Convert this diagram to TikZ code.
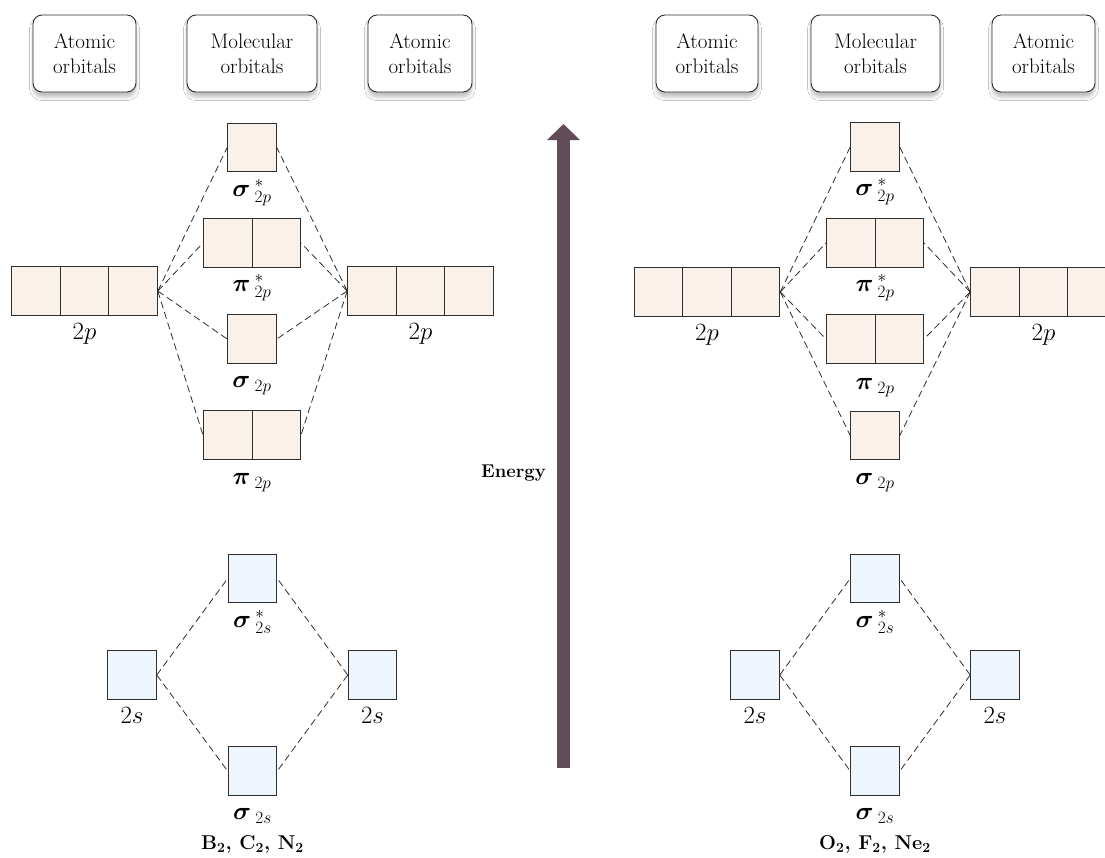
\documentclass[tikz,border=0pt]{standalone}
\usepackage{amsmath,bm}
\usetikzlibrary{arrows.meta,calc,shadows.blur}
\definecolor{peach}{HTML}{FBF1EB}
\definecolor{sblue}{HTML}{EEF5FC}
\definecolor{linegray}{HTML}{2E2E2E}
\definecolor{arrowcol}{HTML}{634C5A}
\tikzset{
  hdr/.style={draw=linegray, line width=0.9pt, rounded corners=9pt, fill=white,
    minimum height=77pt, align=center, inner sep=0pt,
    font=\fontsize{21}{25}\selectfont,
    blur shadow={shadow xshift=0pt, shadow yshift=-5pt, shadow blur radius=3.5pt, shadow opacity=25}},
  orb/.style={draw=linegray, line width=1.1pt, minimum height=48.5pt, minimum width=48.5pt, inner sep=0pt},
  porb/.style={orb, fill=peach},
  sorb/.style={orb, fill=sblue},
  widetwo/.style={minimum width=97pt},
  widethree/.style={minimum width=145.5pt},
  lbl/.style={anchor=base, inner sep=0pt, font=\fontsize{23}{27}\selectfont},
  conn/.style={draw=linegray, line width=0.8pt, dash pattern=on 7pt off 4pt},
  divline/.style={draw=linegray, line width=0.9pt}
}
\newcommand{\threediv}[1]{%
  \draw[divline] ($(#1.north west)!1/3!(#1.north east)$) -- ($(#1.south west)!1/3!(#1.south east)$);
  \draw[divline] ($(#1.north west)!2/3!(#1.north east)$) -- ($(#1.south west)!2/3!(#1.south east)$);}
\newcommand{\twodiv}[1]{\draw[divline] (#1.north) -- (#1.south);}
\begin{document}
\begin{tikzpicture}[x=1pt,y=-1pt]
\useasboundingbox (0,0) rectangle (1105,857);
\fill[white] (0,0) rectangle (1105,857);

% ---------- headers ----------
\node[hdr, minimum width=103pt] (hL1) at (84.5,53.5) {Atomic\\orbitals};
\node[hdr, minimum width=130pt] (hL2) at (252,53.5) {Molecular\\orbitals};
\node[hdr, minimum width=104pt] (hL3) at (420,53.5) {Atomic\\orbitals};
\node[hdr, minimum width=102pt] (hR1) at (707,53.5) {Atomic\\orbitals};
\node[hdr, minimum width=129pt] (hR2) at (875.5,53.5) {Molecular\\orbitals};
\node[hdr, minimum width=103pt] (hR3) at (1043.5,53.5) {Atomic\\orbitals};

% ---------- energy arrow ----------
\coordinate (ebot) at (563.5,768);
\coordinate (etop) at (563.5,124);
\draw[arrowcol, line width=13pt, -{Triangle[width=32pt,length=16pt]}] (ebot) -- (etop);
\node[anchor=base east, inner sep=0pt, font=\bfseries\fontsize{18.5}{22}\selectfont] (energy) at (546,477) {Energy};

% ---------- left panel: 2p ----------
\node[porb, widethree] (L2pA) at (84.5,291) {};
\node[porb, widethree] (L2pB) at (420.5,291) {};
\node[porb] (Lss2p) at (252,147.5) {};
\node[porb, widetwo] (Lps2p) at (252,243) {};
\node[porb] (Ls2p) at (252,339) {};
\node[porb, widetwo] (Lp2p) at (252,435) {};
\foreach \m in {Lss2p,Lps2p,Ls2p,Lp2p}{
  \draw[conn] (L2pA.east) -- (\m.west);
  \draw[conn] (L2pB.west) -- (\m.east);
}
\node[porb, widethree] at (L2pA) {};
\node[porb, widethree] at (L2pB) {};
\threediv{L2pA}\threediv{L2pB}\twodiv{Lps2p}\twodiv{Lp2p}
\node[lbl] (tL2pA) at ($(L2pA.south)+(0,24)$) {$2p$};
\node[lbl] (tL2pB) at ($(L2pB.south)+(0,24)$) {$2p$};
\node[lbl] (tLss2p) at ($(Lss2p.south)+(0,24)$) {$\bm{\sigma}\,{}^{*}_{2p}$};
\node[lbl] (tLps2p) at ($(Lps2p.south)+(0,24)$) {$\bm{\pi}\,{}^{*}_{2p}$};
\node[lbl] (tLs2p) at ($(Ls2p.south)+(0,24)$) {$\bm{\sigma}\,{}_{2p}$};
\node[lbl] (tLp2p) at ($(Lp2p.south)+(0,25)$) {$\bm{\pi}\,{}_{2p}$};

% ---------- left panel: 2s ----------
\node[sorb] (L2sA) at (132,675) {};
\node[sorb] (L2sB) at (372.5,675) {};
\node[sorb] (Lss2s) at (252.5,578.5) {};
\node[sorb] (Ls2s) at (252.5,771) {};
\foreach \m in {Lss2s,Ls2s}{
  \draw[conn] (L2sA.east) -- (\m.west);
  \draw[conn] (L2sB.west) -- (\m.east);
}
\node[lbl] (tL2sA) at ($(L2sA.south)+(0,24)$) {$2s$};
\node[lbl] (tL2sB) at ($(L2sB.south)+(0,24)$) {$2s$};
\node[lbl] (tLss2s) at ($(Lss2s.south)+(0,24)$) {$\bm{\sigma}\,{}^{*}_{2s}$};
\node[lbl] (tLs2s) at ($(Ls2s.south)+(0,24)$) {$\bm{\sigma}\,{}_{2s}$};
\node[lbl, font=\bfseries\fontsize{20}{24}\selectfont] (molL) at (252.5,849) {B\textsubscript{2}, C\textsubscript{2}, N\textsubscript{2}};

% ---------- right panel: 2p ----------
\node[porb, widethree] (R2pA) at (707,292) {};
\node[porb, widethree] (R2pB) at (1043.5,292) {};
\node[porb] (Rss2p) at (875,147) {};
\node[porb, widetwo] (Rps2p) at (875,243) {};
\node[porb, widetwo] (Rp2p) at (875,339) {};
\node[porb] (Rs2p) at (875,435.5) {};
\foreach \m in {Rss2p,Rps2p,Rp2p,Rs2p}{
  \draw[conn] (R2pA.east) -- (\m.west);
  \draw[conn] (R2pB.west) -- (\m.east);
}
\node[porb, widethree] at (R2pA) {};
\node[porb, widethree] at (R2pB) {};
\threediv{R2pA}\threediv{R2pB}\twodiv{Rps2p}\twodiv{Rp2p}
\node[lbl] (tR2pA) at ($(R2pA.south)+(0,24)$) {$2p$};
\node[lbl] (tR2pB) at ($(R2pB.south)+(0,24)$) {$2p$};
\node[lbl] (tRss2p) at ($(Rss2p.south)+(0,24)$) {$\bm{\sigma}\,{}^{*}_{2p}$};
\node[lbl] (tRps2p) at ($(Rps2p.south)+(0,24)$) {$\bm{\pi}\,{}^{*}_{2p}$};
\node[lbl] (tRp2p) at ($(Rp2p.south)+(0,26)$) {$\bm{\pi}\,{}_{2p}$};
\node[lbl] (tRs2p) at ($(Rs2p.south)+(0,24)$) {$\bm{\sigma}\,{}_{2p}$};

% ---------- right panel: 2s ----------
\node[sorb] (R2sA) at (755,675) {};
\node[sorb] (R2sB) at (995,675) {};
\node[sorb] (Rss2s) at (875,578.5) {};
\node[sorb] (Rs2s) at (875,771) {};
\foreach \m in {Rss2s,Rs2s}{
  \draw[conn] (R2sA.east) -- (\m.west);
  \draw[conn] (R2sB.west) -- (\m.east);
}
\node[lbl] (tR2sA) at ($(R2sA.south)+(0,24)$) {$2s$};
\node[lbl] (tR2sB) at ($(R2sB.south)+(0,24)$) {$2s$};
\node[lbl] (tRss2s) at ($(Rss2s.south)+(0,24)$) {$\bm{\sigma}\,{}^{*}_{2s}$};
\node[lbl] (tRs2s) at ($(Rs2s.south)+(0,24)$) {$\bm{\sigma}\,{}_{2s}$};
\node[lbl, font=\bfseries\fontsize{20}{24}\selectfont] (molR) at (875,849) {O\textsubscript{2}, F\textsubscript{2}, Ne\textsubscript{2}};
\end{tikzpicture}
\end{document}
